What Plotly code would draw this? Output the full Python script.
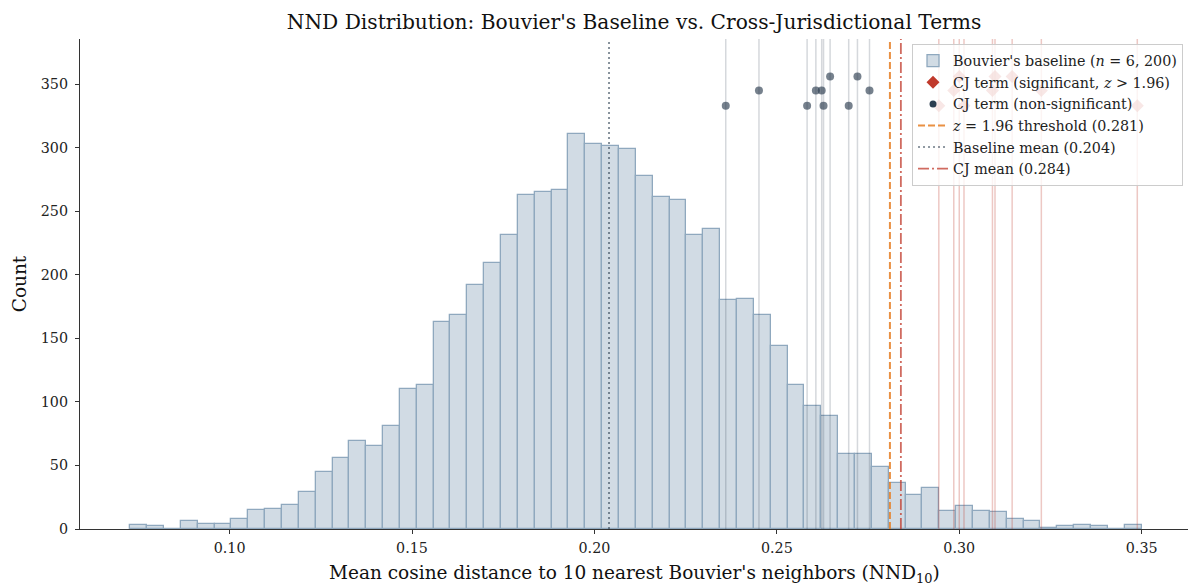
import plotly.graph_objects as go

# ---------------- data ----------------
bin_start = 0.07277
bin_width = 0.004620
counts = [3, 2, 0, 6, 4, 4, 8, 15, 16, 19,
          29, 45, 56, 69, 65, 81, 110, 113, 163, 168,
          192, 209, 231, 263, 265, 267, 311, 303, 301, 299,
          278, 261, 259, 231, 236, 180, 181, 168, 144, 113,
          97, 89, 59, 59, 49, 36, 27, 32, 14, 18,
          14, 13, 8, 6, 1, 2, 3, 2, 0, 3]

nonsig_x = [0.2360, 0.2451, 0.2583, 0.2607, 0.2623, 0.2628, 0.2646, 0.2697, 0.2721, 0.2754]
nonsig_y = [333, 345, 333, 345, 345, 333, 356, 333, 356, 345]

sig_x = [0.2944, 0.2985, 0.3000, 0.3013, 0.3091, 0.3098, 0.3145, 0.3225, 0.3488]
sig_y = [333, 345, 356, 333, 345, 356, 356, 345, 333]

baseline_mean = 0.204
threshold = 0.281
cj_mean = 0.284

x_ticks = [0.10, 0.15, 0.20, 0.25, 0.30, 0.35]
y_ticks = [0, 50, 100, 150, 200, 250, 300, 350]

# ---------------- styles ----------------
FONT = "DejaVu Serif"
NAVY = "#2c3e50"
RED = "#c0392b"

centers = [bin_start + bin_width * (i + 0.5) for i in range(len(counts))]

fig = go.Figure()

fig.add_trace(go.Bar(
    x=centers, y=counts, width=bin_width,
    marker=dict(color="rgb(209,219,228)", line=dict(color="rgb(143,168,190)", width=1.3)),
    name="Bouvier's baseline (<i>n</i> = 6, 200)", legendgroup="a",
))

# actual points (no legend)
fig.add_trace(go.Scatter(
    x=sig_x, y=sig_y, mode="markers", showlegend=False,
    marker=dict(symbol="diamond", size=10, color="rgba(192,57,43,0.6)"),
))
fig.add_trace(go.Scatter(
    x=nonsig_x, y=nonsig_y, mode="markers", showlegend=False,
    marker=dict(symbol="circle", size=8, color="rgba(44,62,80,0.65)"),
))

# legend entries
fig.add_trace(go.Scatter(x=[None], y=[None], mode="markers", legendgroup="b",
                         marker=dict(symbol="diamond", size=10, color=RED),
                         name="CJ term (significant, <i>z</i> > 1.96)"))
fig.add_trace(go.Scatter(x=[None], y=[None], mode="markers", legendgroup="c",
                         marker=dict(symbol="circle", size=7, color=NAVY),
                         name="CJ term (non-significant)"))
fig.add_trace(go.Scatter(x=[None], y=[None], mode="lines", legendgroup="d",
                         line=dict(color="rgba(230,126,34,0.85)", width=2, dash="7px,3px"),
                         name="<i>z</i> = 1.96 threshold (0.281)"))
fig.add_trace(go.Scatter(x=[None], y=[None], mode="lines", legendgroup="e",
                         line=dict(color="rgba(44,62,80,0.7)", width=1.6, dash="2px,3px"),
                         name="Baseline mean (0.204)"))
fig.add_trace(go.Scatter(x=[None], y=[None], mode="lines", legendgroup="f",
                         line=dict(color="rgba(192,57,43,0.75)", width=1.8, dash="11px,3px,2px,3px"),
                         name="CJ mean (0.284)"))

shapes = []
for v in nonsig_x:
    shapes.append(dict(type="line", xref="x", yref="paper", x0=v, x1=v, y0=0, y1=1,
                       line=dict(color="rgba(44,62,80,0.2)", width=1.5), layer="above"))
for v in sig_x:
    shapes.append(dict(type="line", xref="x", yref="paper", x0=v, x1=v, y0=0, y1=1,
                       line=dict(color="rgba(192,57,43,0.28)", width=1.5), layer="above"))
shapes.append(dict(type="line", xref="x", yref="paper", x0=baseline_mean, x1=baseline_mean, y0=0, y1=1,
                   line=dict(color="rgba(44,62,80,0.7)", width=1.6, dash="2px,3px"), layer="above"))
shapes.append(dict(type="line", xref="x", yref="paper", x0=threshold, x1=threshold, y0=0, y1=1,
                   line=dict(color="rgba(230,126,34,0.85)", width=2, dash="7px,3px"), layer="above"))
shapes.append(dict(type="line", xref="x", yref="paper", x0=cj_mean, x1=cj_mean, y0=0, y1=1,
                   line=dict(color="rgba(192,57,43,0.75)", width=1.8, dash="11px,3px,2px,3px"), layer="above"))

fig.update_layout(
    width=1188, height=583,
    margin=dict(l=80, r=0, t=39, b=54),
    paper_bgcolor="white", plot_bgcolor="white",
    font=dict(family=FONT, color="#222", size=14),
    title=dict(text="NND Distribution: Bouvier's Baseline vs. Cross-Jurisdictional Terms",
               x=0.5, xref="paper", xanchor="center", y=0.962, yanchor="middle",
               font=dict(family=FONT, size=20.2, color="#111")),
    bargap=0,
    shapes=shapes,
    showlegend=True,
    legend=dict(x=0.9955, y=0.99, xanchor="right", yanchor="top",
                bgcolor="rgba(255,255,255,0.8)", bordercolor="#cccccc", borderwidth=1,
                font=dict(family=FONT, size=14.3, color="#222"),
                traceorder="grouped", tracegroupgap=0, itemwidth=30),
    annotations=[dict(text="Mean cosine distance to 10 nearest Bouvier's neighbors (NND<sub>10</sub>)",
                      xref="paper", yref="paper", x=0.5, y=0, xanchor="center", yanchor="middle",
                      yshift=-45, showarrow=False,
                      font=dict(family=FONT, size=18.5, color="#111"))],
    xaxis=dict(range=[0.0590, 0.3627], tickvals=x_ticks, tickformat=".2f",
               showline=True, linecolor="#333", linewidth=1.2, ticks="outside",
               ticklen=4, tickcolor="#333", showgrid=False, zeroline=False,
               automargin=False, ticklabelstandoff=2,
               tickfont=dict(family=FONT, size=14.3, color="#222")),
    yaxis=dict(range=[0, 385.5], tickvals=y_ticks,
               showline=True, linecolor="#333", linewidth=1.2, ticks="outside",
               ticklen=4, tickcolor="#333", showgrid=False, zeroline=False,
               automargin=False, ticklabelstandoff=4,
               tickfont=dict(family=FONT, size=14.3, color="#222"),
               title=dict(text="Count", font=dict(family=FONT, size=18.5, color="#111"), standoff=9)),
)

fig.write_html("out.html")
